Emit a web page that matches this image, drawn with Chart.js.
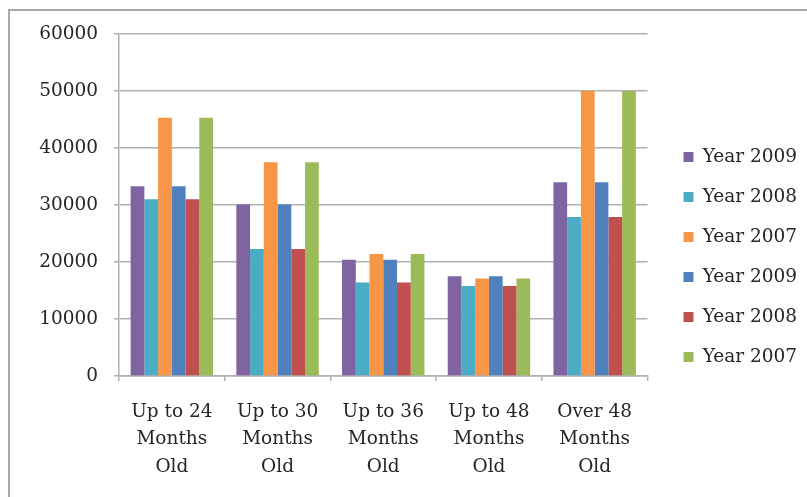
<!DOCTYPE html>
<html>
<head>
<meta charset="utf-8">
<script src="https://cdn.jsdelivr.net/npm/chart.js@4/dist/chart.umd.min.js"></script>
<style>
  html, body { margin: 0; padding: 0; background: #ffffff; overflow: hidden; }
  #wrap { position: relative; width: 807px; height: 497px; overflow: hidden; }
  #frame { position: absolute; left: 8px; top: 9px; width: 1000px; height: 1000px;
           border-left: 2px solid #a8a8a8; border-top: 2px solid #a8a8a8; box-sizing: border-box; }
  #chart { position: absolute; left: 0; top: 0; }
</style>
</head>
<body>
<div id="wrap">
  <div id="frame"></div>
  <canvas id="chart" width="807" height="497"></canvas>
</div>
<script>
// Age groups along the x axis (one line per array entry)
const categories = [
  ['Up to 24', 'Months', 'Old'],
  ['Up to 30', 'Months', 'Old'],
  ['Up to 36', 'Months', 'Old'],
  ['Up to 48', 'Months', 'Old'],
  ['Over 48', 'Months', 'Old']
];

// First set of yearly series
const year2009 = [33300, 30100, 20400, 17500, 34000];
const year2008 = [31000, 22300, 16400, 15800, 27900];
const year2007 = [45300, 37500, 21400, 17100, 50000];

// Second set of yearly series
const year2009b = [33300, 30100, 20400, 17500, 34000];
const year2008b = [31000, 22300, 16400, 15800, 27900];
const year2007b = [45300, 37500, 21400, 17100, 50000];

const seriesLabels = ['Year 2009', 'Year 2008', 'Year 2007', 'Year 2009', 'Year 2008', 'Year 2007'];
const seriesColors = ['#8064A2', '#4BACC6', '#F79646', '#4F81BD', '#C0504D', '#9BBB59'];
const seriesValues = [year2009, year2008, year2007, year2009b, year2008b, year2007b];

// Y axis tick values
const yTicks = [0, 10000, 20000, 30000, 40000, 50000, 60000];

const FONT = '"DejaVu Serif", serif';
const TEXT = '#262626';
const GRID = '#b0b0b0';

const datasets = seriesValues.map((vals, i) => ({
  label: seriesLabels[i],
  data: vals,
  backgroundColor: seriesColors[i],
  borderWidth: 0,
  categoryPercentage: 0.78,
  barPercentage: 1.0
}));

new Chart(document.getElementById('chart'), {
  type: 'bar',
  data: { labels: categories, datasets },
  options: {
    responsive: false,
    animation: false,
    devicePixelRatio: 1,
    layout: { padding: { left: 0, right: 0, top: 34, bottom: 17 } },
    plugins: {
      tooltip: { enabled: false },
      legend: {
        position: 'right',
        maxWidth: 145,
        labels: {
          boxWidth: 10,
          boxHeight: 10,
          padding: 21.5,
          color: TEXT,
          font: { family: FONT, size: 18.5 }
        }
      }
    },
    scales: {
      x: {
        afterFit: s => { s.height = 104; },
        grid: {
          display: true,
          drawOnChartArea: false,
          drawTicks: true,
          tickLength: 5,
          color: GRID,
          lineWidth: 1.5
        },
        border: { display: true, color: GRID, width: 1.5 },
        ticks: {
          color: TEXT,
          padding: 17,
          maxRotation: 0,
          autoSkip: false,
          font: { family: FONT, size: 18.5, lineHeight: 1.5 }
        }
      },
      y: {
        min: 0,
        max: 60000,
        afterFit: s => { s.width = 119; },
        afterBuildTicks: s => { s.ticks = yTicks.map(v => ({ value: v })); },
        grid: {
          color: GRID,
          lineWidth: 1.5,
          drawTicks: true,
          tickLength: 5
        },
        border: { display: true, color: GRID, width: 1.5 },
        ticks: {
          color: TEXT,
          padding: 16,
          font: { family: FONT, size: 18.5 },
          callback: v => String(v)
        }
      },
      // empty spacer between the plot and the legend
      gap: {
        type: 'linear',
        position: 'right',
        display: true,
        afterFit: s => { s.width = 14.5; },
        grid: { display: false },
        border: { display: false },
        ticks: { display: false }
      }
    }
  }
});
</script>
</body>
</html>
